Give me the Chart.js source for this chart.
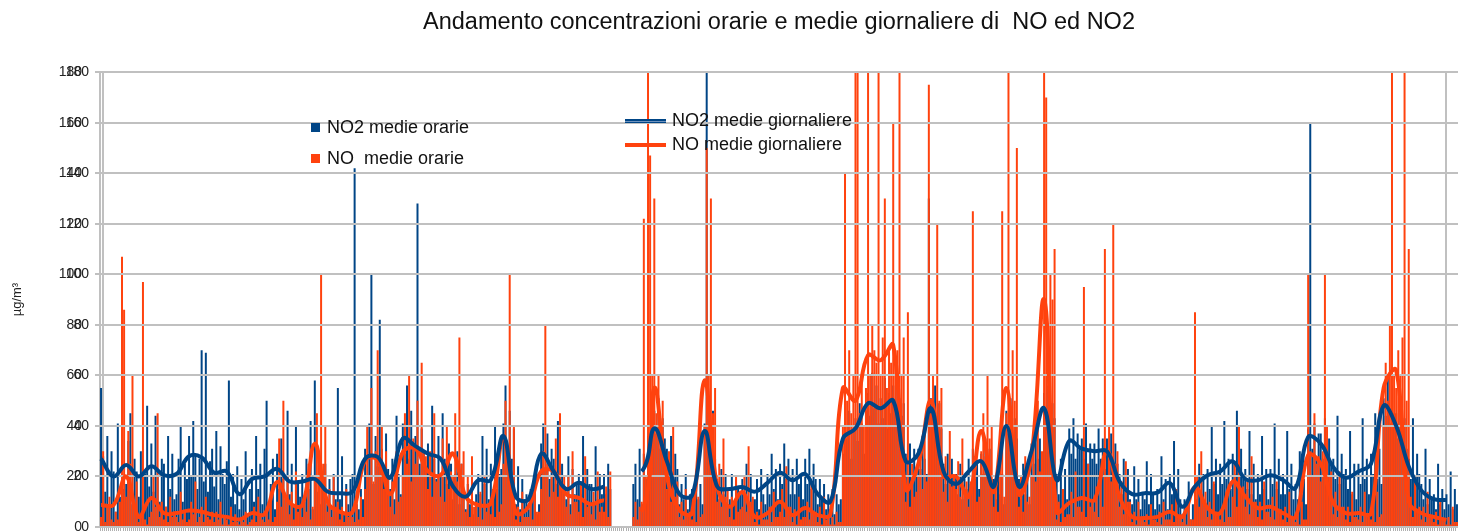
<!DOCTYPE html>
<html>
<head>
<meta charset="utf-8">
<script src="https://cdn.jsdelivr.net/npm/chart.js@4.4.0/dist/chart.umd.min.js"></script>
<style>
  html, body { margin: 0; padding: 0; background: #fff; }
  #wrap { width: 1458px; height: 531px; }
</style>
</head>
<body>
<div id="wrap"><canvas id="chart" width="1458" height="531"></canvas></div>
<script>
const TITLE = 'Andamento concentrazioni orarie e medie giornaliere di  NO ed NO2';
const Y_TITLE = 'µg/m³';
const Y_MIN = 0, Y_MAX = 180, Y_STEP = 20;
const SERIES_NAMES = ['NO2 medie orarie', 'NO  medie orarie', 'NO2 medie giornaliere', 'NO medie giornaliere'];

// hourly concentrations, one row per day (4-hour samples)
const NO2_HOURLY = [
  [55, 28, 14, 36, 9, 30], [22, 6, 41, 12, 26, 15], [17, 34, 45, 9, 27, 22], [12, 30, 8, 21, 48, 16],
  [33, 14, 44, 20, 10, 27], [25, 8, 36, 15, 29, 11], [13, 27, 40, 10, 25, 19], [36, 20, 42, 28, 15, 27],
  [70, 18, 69, 14, 26, 31], [16, 38, 11, 32, 21, 17], [26, 58, 12, 21, 9, 24], [7, 19, 11, 30, 5, 15],
  [23, 10, 36, 15, 25, 9], [31, 50, 10, 17, 27, 7], [29, 15, 35, 19, 11, 46], [13, 25, 9, 40, 17, 12],
  [21, 10, 27, 15, 42, 7], [58, 14, 23, 9, 19, 25], [9, 19, 7, 21, 11, 55], [11, 28, 5, 17, 9, 19],
  [21, 142, 9, 7, 15, 11], [31, 20, 41, 100, 17, 36], [24, 82, 31, 19, 37, 23], [15, 27, 11, 44, 21, 13],
  [41, 29, 56, 27, 46, 31], [36, 128, 25, 39, 29, 23], [33, 23, 48, 27, 19, 36], [21, 45, 27, 17, 33, 25],
  [11, 21, 30, 9, 25, 13], [7, 17, 9, 21, 5, 13], [21, 13, 36, 17, 31, 11], [25, 11, 40, 15, 21, 23],
  [41, 56, 29, 46, 27, 39], [9, 24, 7, 19, 11, 13], [7, 15, 11, 19, 5, 9], [33, 41, 23, 37, 19, 31],
  [27, 17, 42, 19, 25, 15], [11, 28, 9, 23, 13, 17], [21, 13, 36, 11, 23, 17], [17, 9, 32, 11, 21, 13],
  [21, 13, 25, 15, null, null], [null, null, null, null, null, null], [null, null, 17, 25, 11, 31], [9, 29, 19, 36, 23, 31],
  [46, 37, 51, 31, 43, 35], [31, 21, 36, 17, 29, 23], [9, 17, 11, 21, 7, 13], [15, 7, 19, 11, 17, 9],
  [41, 185, 34, 29, 46, 27], [19, 11, 23, 13, 21, 9], [11, 21, 9, 19, 15, 13], [19, 13, 25, 9, 21, 11],
  [11, 19, 7, 23, 13, 9], [21, 13, 29, 15, 23, 11], [25, 17, 33, 19, 27, 13], [23, 13, 27, 17, 21, 11],
  [27, 17, 31, 15, 25, 19], [9, 19, 11, 17, 7, 13], [7, 15, 5, 13, 9, 11], [29, 41, 35, 46, 27, 39],
  [43, 34, 49, 41, 29, 46], [53, 44, 61, 47, 56, 41], [51, 43, 59, 39, 53, 45], [56, 47, 61, 51, 44, 49],
  [29, 21, 33, 19, 31, 23], [31, 23, 36, 27, 21, 130], [51, 44, 56, 41, 49, 39], [25, 17, 29, 19, 27, 15],
  [21, 13, 25, 11, 19, 15], [27, 17, 31, 19, 25, 15], [29, 21, 35, 23, 31, 19], [19, 11, 23, 13, 21, 9],
  [46, 37, 51, 34, 43, 35], [19, 11, 25, 13, 21, 9], [33, 25, 39, 27, 35, 23], [53, 44, 56, 39, 49, 43],
  [21, 13, 27, 15, 23, 11], [39, 29, 43, 27, 37, 31], [35, 27, 41, 25, 33, 27], [33, 25, 39, 27, 35, 23],
  [35, 27, 37, 23, 33, 25], [21, 13, 27, 15, 23, 11], [9, 24, 11, 19, 7, 13], [11, 26, 9, 21, 13, 7],
  [15, 9, 28, 11, 19, 7], [21, 13, 34, 15, 23, 11], [5, 11, 7, 18, 3, 9], [19, 11, 25, 13, 21, 9],
  [23, 15, 40, 17, 27, 13], [25, 17, 42, 19, 27, 15], [29, 21, 46, 23, 31, 19], [23, 15, 38, 13, 25, 11],
  [21, 13, 36, 15, 23, 11], [23, 17, 41, 15, 27, 13], [21, 13, 38, 15, 25, 11], [17, 11, 30, 13, 19, 9],
  [39, 160, 31, 41, 27, 37], [37, 27, 43, 29, 35, 25], [27, 19, 44, 17, 29, 21], [23, 15, 38, 13, 25, 11],
  [25, 17, 43, 19, 27, 13], [29, 21, 45, 19, 31, 17], [51, 44, 59, 41, 56, 45], [45, 35, 51, 37, 43, 31],
  [27, 19, 43, 17, 29, 21], [17, 11, 31, 9, 19, 11], [13, 7, 25, 9, 15, 7], [13, 9, 22, 7, 15, 9],
];

const NO_HOURLY = [
  [4, 30, 2, 8, 12, 3], [2, 6, 3, 10, 107, 86], [12, 38, 25, 60, 8, 18], [2, 5, 97, 3, 1, 4],
  [6, 20, 8, 45, 4, 10], [3, 8, 2, 12, 4, 6], [4, 2, 14, 3, 6, 2], [3, 10, 5, 18, 2, 4],
  [8, 2, 12, 4, 3, 6], [2, 6, 3, 10, 1, 4], [3, 1, 8, 2, 5, 2], [1, 4, 2, 6, 1, 2],
  [3, 8, 2, 12, 4, 3], [2, 6, 3, 14, 2, 4], [10, 35, 8, 50, 12, 20], [5, 14, 3, 22, 6, 8],
  [4, 12, 6, 25, 3, 8], [20, 45, 30, 100, 25, 40], [6, 15, 4, 20, 8, 10], [3, 8, 2, 15, 4, 5],
  [4, 2, 10, 3, 12, 4], [15, 40, 20, 55, 18, 30], [70, 25, 40, 15, 30, 20], [8, 18, 5, 30, 10, 12],
  [20, 45, 25, 60, 18, 35], [25, 50, 20, 65, 30, 28], [15, 30, 12, 45, 18, 20], [12, 35, 10, 40, 15, 22],
  [20, 45, 18, 75, 25, 30], [6, 20, 4, 28, 8, 10], [4, 14, 3, 20, 6, 8], [5, 15, 4, 22, 6, 9],
  [25, 50, 30, 100, 20, 40], [3, 8, 2, 14, 4, 4], [4, 12, 3, 18, 6, 6], [15, 30, 80, 25, 12, 20],
  [14, 35, 12, 45, 16, 20], [8, 20, 5, 30, 10, 10], [6, 18, 4, 28, 8, 10], [5, 14, 3, 22, 6, 8],
  [6, 16, 4, 22, null, null], [null, null, null, null, null, null], [null, null, 4, 10, 3, 8], [10, 122, 20, 185, 147, 60],
  [130, 45, 60, 35, 50, 30], [15, 30, 10, 40, 12, 18], [4, 10, 3, 15, 5, 6], [3, 8, 2, 12, 4, 5],
  [40, 150, 60, 130, 45, 55], [10, 25, 8, 35, 12, 15], [4, 12, 3, 20, 6, 7], [8, 20, 6, 32, 10, 12],
  [2, 6, 1, 10, 3, 3], [3, 8, 2, 14, 4, 4], [6, 15, 4, 24, 8, 8], [2, 7, 1, 12, 3, 4],
  [4, 10, 3, 18, 5, 6], [2, 8, 1, 12, 3, 4], [1, 4, 1, 6, 2, 2], [40, 140, 50, 70, 45, 60],
  [185, 185, 45, 60, 40, 55], [185, 60, 80, 70, 65, 185], [60, 75, 130, 55, 70, 65], [160, 65, 70, 185, 60, 75],
  [10, 85, 8, 25, 12, 14], [20, 30, 15, 40, 18, 175], [45, 60, 40, 120, 50, 55], [14, 28, 10, 38, 16, 20],
  [15, 26, 12, 35, 14, 18], [8, 18, 125, 25, 10, 12], [30, 45, 28, 60, 35, 40], [8, 20, 6, 28, 125, 12],
  [45, 185, 40, 70, 50, 150], [8, 20, 6, 28, 10, 12], [20, 35, 18, 50, 22, 30], [185, 170, 80, 100, 90, 110],
  [3, 10, 2, 15, 4, 5], [5, 14, 4, 22, 8, 8], [6, 95, 4, 25, 8, 10], [6, 16, 4, 22, 8, 110],
  [20, 40, 18, 120, 25, 30], [8, 18, 5, 26, 10, 10], [2, 6, 1, 10, 3, 3], [2, 5, 1, 9, 3, 3],
  [2, 6, 1, 10, 3, 3], [3, 9, 2, 15, 4, 5], [2, 6, 1, 10, 3, 3], [85, 20, 8, 30, 10, 14],
  [4, 10, 3, 18, 6, 6], [3, 8, 2, 14, 4, 4], [12, 25, 8, 40, 14, 16], [8, 18, 5, 28, 10, 10],
  [4, 10, 3, 18, 6, 6], [4, 12, 3, 18, 6, 7], [3, 8, 2, 14, 4, 4], [2, 6, 1, 10, 3, 3],
  [100, 30, 20, 45, 25, 28], [18, 30, 100, 40, 20, 22], [5, 14, 4, 22, 8, 8], [3, 8, 2, 14, 4, 4],
  [3, 8, 2, 14, 4, 4], [3, 8, 2, 14, 4, 5], [40, 65, 50, 80, 185, 60], [55, 70, 60, 75, 185, 50],
  [110, 12, 4, 20, 6, 8], [3, 8, 2, 14, 4, 4], [2, 6, 1, 10, 3, 3], [1, 4, 1, 8, 2, 2],
];

// daily means, one per day (null = no data)
const NO2_DAILY = [
  27, 20, 24.5, 20, 24, 20.5, 21, 28, 27.5, 21.5, 22, 13, 19, 20, 23, 18, 18, 19, 14, 13.4,
  14, 27, 27.7, 19.5, 35, 32, 29, 27, 16, 12, 18.5, 18.6, 36, 12, 11, 29, 22, 15, 17.5, 15,
  16, null, null, 22, 39, 26, 13, 12.5, 38, 16, 15, 15.8, 14, 17.5, 21.5, 18.5, 21, 13, 10, 35,
  39, 49, 47, 50, 26, 29, 47, 22, 17, 22, 26, 16, 40, 16, 30, 47, 18.6, 34, 31, 30,
  30, 18, 13, 13.4, 13.6, 17.4, 8, 16, 20.5, 22, 26, 19, 18.5, 20.5, 18.6, 15.4, 35.6, 33, 23.7, 19.5,
  22, 25, 48, 40, 24, 14.5, 11, 10.7,
];
const NO_DAILY = [
  8.7, 8.7, 20, 4, 11.5, 5.5, 5.5, 6.5, 6, 4.7, 4, 3, 5.5, 5, 17.8, 9.5, 8.7, 33, 10, 6,
  6, 26.5, 26.5, 13, 29.7, 31, 22, 20.5, 29, 12, 8.7, 9.5, 35.5, 5.5, 8, 22, 22, 13, 11.5, 9,
  10.5, null, null, 6, 55, 20, 6.7, 5.5, 58, 16, 8, 13.8, 4, 5.5, 10, 4.7, 7.5, 4.7, 5, 55,
  50, 68, 66, 72, 15, 25, 50, 20, 20, 12, 38, 14, 55, 13, 28, 90, 6, 9.5, 11.5, 10.7,
  30, 12, 4, 3.6, 4, 6, 4, 15.8, 7.5, 5.5, 18, 12, 7.5, 8, 5.5, 4, 28.5, 25, 9.5, 5.5,
  5.5, 5.5, 55, 62, 10, 5.5, 4, 2.8,
];

const BLUE = '#004586';
const ORANGE = '#ff420e';
const GRID = '#c0c0c0';
const FONT = '"Liberation Sans", Arial, sans-serif';
const TICK_FONT = '14px ' + FONT;

const binsPerDay = NO2_HOURLY[0].length;
const labels = NO2_HOURLY.flat().map((_, i) => 'h' + i);

function dailyPoints(values) {
  // one point at the start of each day, missing days left out so the line breaks
  return values
    .map((v, d) => (v == null ? null : { x: 'h' + d * binsPerDay, y: v }))
    .filter(p => p !== null);
}

const decorPlugin = {
  id: 'decor',
  beforeDatasetsDraw(chart) {
    const { ctx, chartArea } = chart;
    ctx.save();
    ctx.strokeStyle = GRID;
    ctx.lineWidth = 2;
    ctx.beginPath();
    ctx.moveTo(103, chartArea.top); ctx.lineTo(103, chartArea.bottom);
    ctx.moveTo(1446, chartArea.top); ctx.lineTo(1446, chartArea.bottom);
    ctx.stroke();
    ctx.restore();
  },
  // horizontal grid goes over the hourly bars but under the daily lines
  afterDatasetDraw(chart, args) {
    if (args.index !== 2) return;
    const { ctx, chartArea } = chart;
    const ys = chart.scales.y;
    ctx.save();
    ctx.strokeStyle = GRID;
    ctx.lineWidth = 2;
    ctx.beginPath();
    ys.ticks.forEach((t, i) => {
      const py = Math.round(ys.getPixelForTick(i));
      ctx.moveTo(chartArea.left, py);
      ctx.lineTo(chartArea.right, py);
    });
    ctx.stroke();
    ctx.restore();
  },
  afterDraw(chart) {
    const ctx = chart.ctx;
    ctx.save();
    // second (secondary axis) copy of the y tick labels, slightly shifted
    const ys = chart.scales.y;
    ctx.font = TICK_FONT;
    ctx.fillStyle = '#222';
    ctx.textAlign = 'right';
    ctx.textBaseline = 'middle';
    ys.ticks.forEach((t, i) => ctx.fillText(String(t.value), 89, ys.getPixelForTick(i)));

    // legend inside the plot
    ctx.textAlign = 'left';
    ctx.font = '18px ' + FONT;
    ctx.fillStyle = BLUE;
    ctx.fillRect(311, 123, 9, 9);
    ctx.fillStyle = ORANGE;
    ctx.fillRect(311, 154, 9, 9);
    ctx.lineWidth = 4;
    ctx.strokeStyle = BLUE;
    ctx.beginPath(); ctx.moveTo(625, 121); ctx.lineTo(666, 121); ctx.stroke();
    ctx.lineWidth = 1;
    ctx.strokeStyle = '#6f93bd';
    ctx.beginPath(); ctx.moveTo(625, 121.5); ctx.lineTo(666, 121.5); ctx.stroke();
    ctx.lineWidth = 4;
    ctx.strokeStyle = ORANGE;
    ctx.beginPath(); ctx.moveTo(625, 145); ctx.lineTo(666, 145); ctx.stroke();
    ctx.fillStyle = '#111';
    ctx.fillText(SERIES_NAMES[0], 327, 128);
    ctx.fillText(SERIES_NAMES[1], 327, 159);
    ctx.fillText(SERIES_NAMES[2], 672, 121);
    ctx.fillText(SERIES_NAMES[3], 672, 145);
    ctx.restore();
  },
};

new Chart(document.getElementById('chart'), {
  data: {
    labels,
    datasets: [
      {
        type: 'line', label: SERIES_NAMES[2], data: dailyPoints(NO2_DAILY),
        borderColor: BLUE, borderWidth: 4, pointRadius: 0, tension: 0.4,
        spanGaps: binsPerDay + 1, order: 0,
      },
      {
        type: 'line', label: SERIES_NAMES[3], data: dailyPoints(NO_DAILY),
        borderColor: ORANGE, borderWidth: 4, pointRadius: 0, tension: 0.4,
        spanGaps: binsPerDay + 1, order: 1,
      },
      {
        type: 'bar', label: SERIES_NAMES[1], data: NO_HOURLY.flat(),
        backgroundColor: ORANGE, grouped: false, order: 2,
        categoryPercentage: 1, barPercentage: 0.95,
      },
      {
        type: 'bar', label: SERIES_NAMES[0], data: NO2_HOURLY.flat(),
        backgroundColor: BLUE, grouped: false, order: 3,
        categoryPercentage: 1, barPercentage: 0.95,
      },
    ],
  },
  options: {
    responsive: false,
    animation: false,
    devicePixelRatio: 1,
    layout: { padding: 0 },
    plugins: {
      legend: { display: false },
      tooltip: { enabled: false },
      title: {
        display: true, text: TITLE, color: '#111', fullSize: false,
        font: { family: FONT, size: 23.5, weight: 'normal' },
        padding: { top: 8, bottom: 36 },
      },
    },
    scales: {
      x: {
        type: 'category',
        offset: true,
        grid: { display: true, drawOnChartArea: false, drawTicks: true, tickLength: 4, color: '#b0b0b0' },
        border: { display: true, color: GRID, width: 2 },
        ticks: { display: false },
        afterFit: s => { s.height = 4; },
      },
      y: {
        type: 'linear', position: 'left', min: Y_MIN, max: Y_MAX,
        ticks: { stepSize: Y_STEP, color: '#222', padding: 13, font: { family: FONT, size: 14 } },
        grid: { color: GRID, lineWidth: 2, tickLength: 5 },
        border: { display: true, color: GRID, width: 2 },
        title: { display: true, text: Y_TITLE, color: '#222', font: { family: FONT, size: 13 }, padding: { top: 10, bottom: 0 } },
        afterFit: s => { s.width = 100; s.paddingTop = 0; s.paddingBottom = 0; },
      },
    },
  },
  plugins: [decorPlugin],
});
</script>
</body>
</html>
